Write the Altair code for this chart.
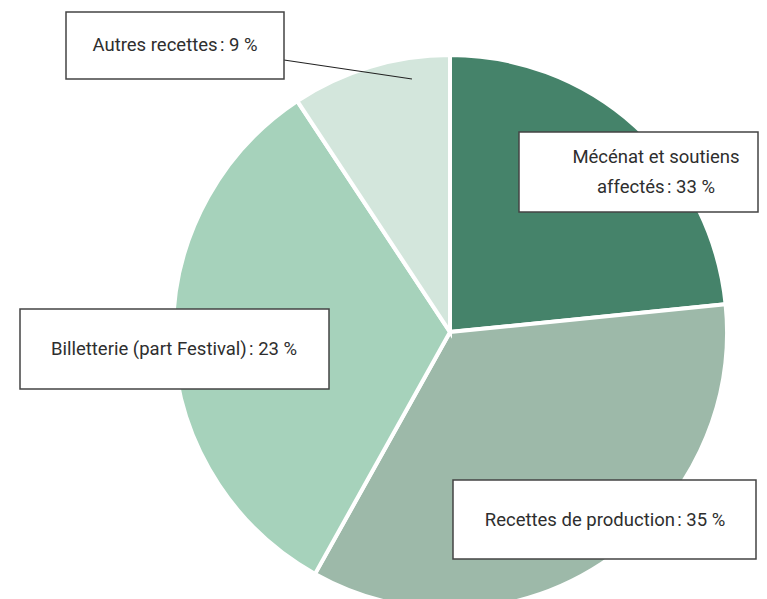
import altair as alt
import pandas as pd

# Data (slice sizes as drawn, labels as printed)
categories = ["Mécénat et soutiens affectés", "Recettes de production",
              "Billetterie (part Festival)", "Autres recettes"]
values = [23.4, 34.7, 32.6, 9.3]
colors = ["#45836A", "#9DB9A9", "#A6D2BB", "#D3E6DC"]
label_texts = [
    ["Mécénat et soutiens", "affectés\u202f: 33 %"],
    ["Recettes de production\u202f: 35 %"],
    ["Billetterie (part Festival)\u202f: 23 %"],
    ["Autres recettes\u202f: 9 %"],
]

# Layout (pixel positions inside the chart)
CX, CY, R = 442, 324, 277
boxes = [  # x, x2, y, y2, text x, text y (first line)
    (511, 750, 124, 204, 648, 149),
    (445, 748, 472, 551, 597, 512),
    (12, 321, 301, 381, 166, 341),
    (58, 276, 4, 71, 167, 37),
]
leader = (276, 52, 404, 71)

FONT = "Roboto"

pie_df = pd.DataFrame({"cat": categories, "value": values,
                       "order": list(range(len(categories)))})

pie = alt.Chart(pie_df).mark_arc(radius=R, stroke="white", strokeWidth=4).encode(
    theta=alt.Theta("value:Q", stack=True),
    order=alt.Order("order:Q"),
    color=alt.Color("cat:N", scale=alt.Scale(domain=categories, range=colors), legend=None),
    x=alt.value(CX),
    y=alt.value(CY),
)

layers = [pie]
lx, ly, lx2, ly2 = leader
layers.append(
    alt.Chart(pd.DataFrame({"a": [0]})).mark_rule(color="#222222", strokeWidth=1.2).encode(
        x=alt.value(lx), y=alt.value(ly), x2=alt.value(lx2), y2=alt.value(ly2)
    )
)

for (bx, bx2, by, by2, tx, ty), txt in zip(boxes, label_texts):
    d = pd.DataFrame({"a": [0]})
    layers.append(
        alt.Chart(d).mark_rect(fill="white", stroke="#444444", strokeWidth=1.5).encode(
            x=alt.value(bx), x2=alt.value(bx2), y=alt.value(by), y2=alt.value(by2)
        )
    )
    layers.append(
        alt.Chart(d).mark_text(
            text=txt, font=FONT, fontSize=18.5, color="#2E2E2E", align="center",
            baseline="middle", lineHeight=30
        ).encode(x=alt.value(tx), y=alt.value(ty))
    )

chart = alt.layer(*layers).properties(
    width=751, height=591, padding=0,
    autosize=alt.AutoSizeParams(type="none"),
).configure_view(stroke=None)

chart.save("out.html", embed_options={"renderer": "svg", "actions": False})
